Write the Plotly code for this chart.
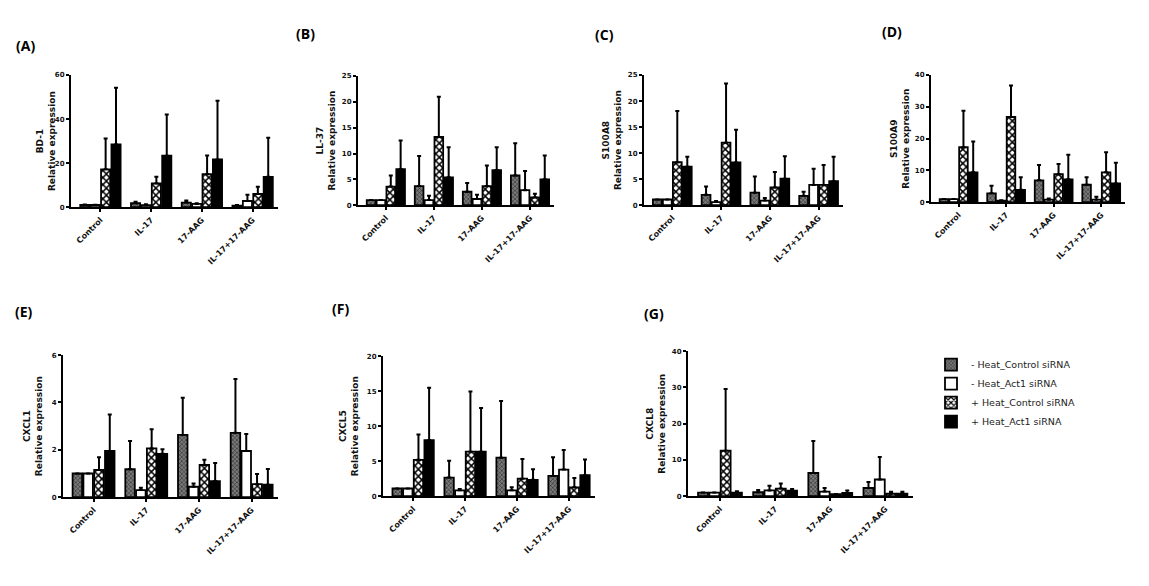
import plotly.graph_objects as go

W, H = 1149, 586

categories = ["Control", "IL-17", "17-AAG", "IL-17+17-AAG"]
series_names = ["- Heat_Control siRNA", "- Heat_Act1 siRNA",
                "+ Heat_Control siRNA", "+ Heat_Act1 siRNA"]

# (A) BD-1
bd1_s1 = [1.0, 1.8, 2.1, 0.7];      bd1_e1 = [0.2, 0.7, 0.9, 0.3]
bd1_s2 = [1.0, 0.9, 1.5, 2.8];      bd1_e2 = [0.1, 0.4, 0.3, 2.9]
bd1_s3 = [17.2, 10.8, 15.0, 6.0];   bd1_e3 = [14.0, 3.0, 8.5, 3.3]
bd1_s4 = [28.5, 23.4, 21.7, 13.8];  bd1_e4 = [25.7, 18.7, 26.6, 17.7]

# (B) LL-37
ll37_s1 = [1.0, 3.7, 2.6, 5.75];    ll37_e1 = [0.0, 5.8, 1.7, 6.25]
ll37_s2 = [1.0, 1.0, 1.2, 2.9];     ll37_e2 = [0.0, 0.85, 0.8, 3.7]
ll37_s3 = [3.6, 13.2, 3.7, 1.5];    ll37_e3 = [2.15, 7.8, 4.0, 0.7]
ll37_s4 = [7.0, 5.4, 6.8, 5.0];     ll37_e4 = [5.5, 5.8, 4.4, 4.6]

# (C) S100A8
a8_s1 = [1.1, 2.0, 2.4, 1.8];       a8_e1 = [0.0, 1.6, 3.1, 0.8]
a8_s2 = [1.1, 0.6, 0.9, 3.9];       a8_e2 = [0.0, 0.2, 0.5, 3.1]
a8_s3 = [8.25, 12.0, 3.4, 3.9];     a8_e3 = [9.85, 11.35, 3.0, 3.8]
a8_s4 = [7.4, 8.2, 5.1, 4.6];       a8_e4 = [1.9, 6.3, 4.3, 4.7]

# (D) S100A9
a9_s1 = [1.0, 2.8, 6.9, 5.5];       a9_e1 = [0.0, 2.4, 4.8, 2.4]
a9_s2 = [1.0, 0.5, 0.8, 0.8];       a9_e2 = [0.0, 0.1, 0.4, 0.9]
a9_s3 = [17.3, 26.8, 8.8, 9.4];     a9_e3 = [11.5, 9.9, 3.2, 6.35]
a9_s4 = [9.4, 3.9, 7.2, 5.9];       a9_e4 = [9.7, 4.0, 7.7, 6.5]

# (E) CXCL1
c1_s1 = [1.0, 1.18, 2.63, 2.72];    c1_e1 = [0.0, 1.19, 1.57, 2.27]
c1_s2 = [1.0, 0.3, 0.44, 1.95];     c1_e2 = [0.0, 0.1, 0.14, 0.72]
c1_s3 = [1.15, 2.06, 1.36, 0.55];   c1_e3 = [0.54, 0.81, 0.22, 0.43]
c1_s4 = [1.95, 1.83, 0.68, 0.53];   c1_e4 = [1.54, 0.19, 0.76, 0.66]

# (F) CXCL5
c5_s1 = [1.1, 2.66, 5.5, 2.9];      c5_e1 = [0.0, 2.39, 8.1, 2.66]
c5_s2 = [1.1, 0.84, 0.84, 3.8];     c5_e2 = [0.0, 0.19, 0.42, 2.8]
c5_s3 = [5.2, 6.36, 2.5, 1.26];     c5_e3 = [3.6, 8.59, 2.8, 1.34]
c5_s4 = [8.0, 6.36, 2.34, 3.0];     c5_e4 = [7.5, 6.24, 1.49, 2.23]

# (G) CXCL8
c8_s1 = [1.0, 1.08, 6.4, 2.26];     c8_e1 = [0.0, 0.62, 8.8, 1.64]
c8_s2 = [1.0, 1.6, 1.26, 4.6];      c8_e2 = [0.0, 1.3, 1.0, 6.2]
c8_s3 = [12.55, 2.1, 0.54, 0.7];    c8_e3 = [17.05, 1.4, 0.09, 0.5]
c8_s4 = [1.0, 1.5, 0.9, 0.7];       c8_e4 = [0.35, 0.5, 0.7, 0.55]

panel_letters = ["(A)", "(B)", "(C)", "(D)", "(E)", "(F)", "(G)"]
gene_names = ["BD-1", "LL-37", "S100A8", "S100A9", "CXCL1", "CXCL5", "CXCL8"]
y_max = [60, 25, 25, 40, 6, 20, 40]
y_dtick = [20, 5, 5, 10, 2, 5, 10]

panels = [
    ([bd1_s1, bd1_s2, bd1_s3, bd1_s4], [bd1_e1, bd1_e2, bd1_e3, bd1_e4]),
    ([ll37_s1, ll37_s2, ll37_s3, ll37_s4], [ll37_e1, ll37_e2, ll37_e3, ll37_e4]),
    ([a8_s1, a8_s2, a8_s3, a8_s4], [a8_e1, a8_e2, a8_e3, a8_e4]),
    ([a9_s1, a9_s2, a9_s3, a9_s4], [a9_e1, a9_e2, a9_e3, a9_e4]),
    ([c1_s1, c1_s2, c1_s3, c1_s4], [c1_e1, c1_e2, c1_e3, c1_e4]),
    ([c5_s1, c5_s2, c5_s3, c5_s4], [c5_e1, c5_e2, c5_e3, c5_e4]),
    ([c8_s1, c8_s2, c8_s3, c8_s4], [c8_e1, c8_e2, c8_e3, c8_e4]),
]

# layout geometry (pixels): plot area left, right, top, bottom(zero line)
boxes = [
    (71, 278, 72, 206),
    (358, 554, 73, 204),
    (644, 843, 72, 204),
    (931, 1125, 72, 201),
    (63, 278, 356, 500),
    (383, 595, 357, 499),
    (688, 913, 352, 499),
]
title_offset = [25, 32, 32, 31, 30, 34, 32]
label_pos = [(25, 42), (305, 30), (604, 31), (892, 28), (24, 312), (340, 309), (654, 314)]

styles = [
    dict(color="#777777", line=dict(color="black", width=1.8),
         pattern=dict(shape="x", fillmode="replace", bgcolor="#7a7a7a",
                      fgcolor="#1a1a1a", size=3, solidity=0.3)),
    dict(color="white", line=dict(color="black", width=1.8)),
    dict(color="white", line=dict(color="black", width=1.8),
         pattern=dict(shape="x", fillmode="replace", bgcolor="white",
                      fgcolor="black", size=5, solidity=0.5)),
    dict(color="black", line=dict(color="black", width=1.8)),
]

FONT = "DejaVu Sans, Liberation Sans, Arial, sans-serif"

fig = go.Figure()
layout = dict(
    width=W, height=H, paper_bgcolor="white", plot_bgcolor="white",
    margin=dict(l=0, r=0, t=0, b=0),
    barmode="group", bargap=0.18, bargroupgap=0.12,
    showlegend=True,
    legend=dict(x=931 / W, y=1 - 351 / H, xanchor="left", yanchor="top",
                font=dict(family=FONT, size=9.5, color="#222"),
                bgcolor="rgba(0,0,0,0)", tracegroupgap=0, itemwidth=30),
    annotations=[],
)

for p, (means, errs) in enumerate(panels):
    xa = "x" if p == 0 else f"x{p+1}"
    ya = "y" if p == 0 else f"y{p+1}"
    for s in range(4):
        fig.add_trace(go.Bar(
            x=categories, y=means[s], name=series_names[s],
            xaxis=xa, yaxis=ya, marker=styles[s],
            showlegend=(p == 0), legendgroup=series_names[s],
            error_y=dict(type="data", symmetric=False, array=errs[s],
                         arrayminus=[0] * 4, color="black",
                         thickness=2, width=2),
        ))
    l, r, t, b = boxes[p]
    xkey = "xaxis" if p == 0 else f"xaxis{p+1}"
    ykey = "yaxis" if p == 0 else f"yaxis{p+1}"
    layout[xkey] = dict(
        domain=[l / W, r / W], anchor=ya, type="category",
        range=[-0.58, 3.5], showline=True, linecolor="black", linewidth=2,
        ticks="outside", ticklen=3, tickwidth=1.5, tickcolor="black",
        tickangle=-45, showgrid=False, zeroline=False,
        tickfont=dict(family=FONT, size=8, color="#111", weight="bold"),
    )
    layout[ykey] = dict(
        domain=[1 - b / H, 1 - t / H], anchor=xa,
        range=[0, y_max[p]], tick0=0, dtick=y_dtick[p],
        showline=True, linecolor="black", linewidth=2,
        ticks="outside", ticklen=3, tickwidth=1.5, tickcolor="black",
        showgrid=False, zeroline=False,
        tickfont=dict(family=FONT, size=7, color="#111", weight="bold"),
    )
    layout["annotations"].append(dict(
        x=(l - title_offset[p]) / W, y=1 - (t + b) / 2 / H,
        xref="paper", yref="paper", xanchor="center", yanchor="middle",
        text=f"{gene_names[p]}<br>Relative expression", textangle=-90,
        showarrow=False, font=dict(family=FONT, size=9, color="#111", weight="bold"),
    ))
    lx, ly = label_pos[p]
    layout["annotations"].append(dict(
        x=lx / W, y=1 - ly / H, xref="paper", yref="paper",
        xanchor="center", yanchor="middle", text=f"<b>{panel_letters[p]}</b>",
        showarrow=False, font=dict(family="Open Sans, sans-serif", size=14, color="black"),
    ))

fig.update_layout(**layout)
fig.write_html("out.html", config={"displayModeBar": False},
               post_script="document.body.style.margin='0';document.body.style.padding='0';")
